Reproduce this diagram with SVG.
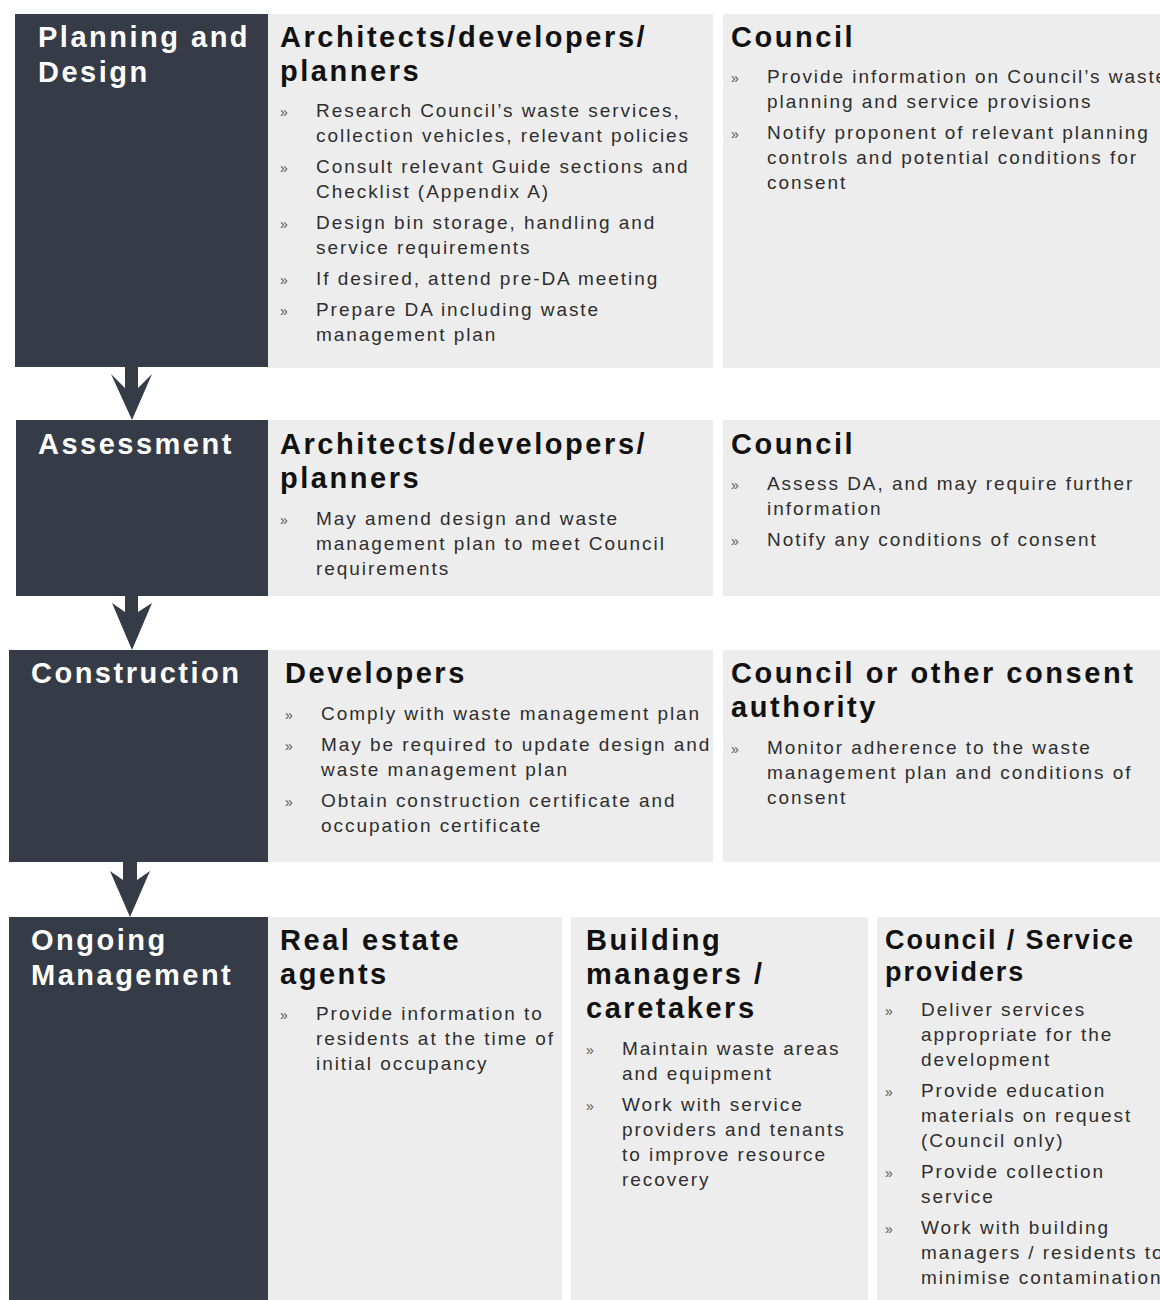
<svg xmlns="http://www.w3.org/2000/svg" width="1160" height="1300" viewBox="0 0 1160 1300">
<style>
.stage{fill:#353c47}
.pane{fill:#ededed}
.lbl{font-family:"Liberation Sans",Arial,sans-serif;font-weight:bold;font-size:29px;letter-spacing:2.5px;fill:#ffffff}
.hd{font-family:"Liberation Sans",Arial,sans-serif;font-weight:bold;font-size:29px;letter-spacing:2.55px;fill:#111111}
.hd2{font-family:"Liberation Sans",Arial,sans-serif;font-weight:bold;font-size:27px;letter-spacing:1.9px;fill:#111111}
.tx{font-family:"Liberation Sans",Arial,sans-serif;font-size:19px;letter-spacing:1.95px;fill:#2e2e2e}
.bu{font-family:"Liberation Sans",Arial,sans-serif;font-size:14px;fill:#555555}
.arr{fill:#353c47}
</style>
<rect width="1160" height="1300" fill="#ffffff"/>

<g id="connectors">
<polygon class="arr" points="125,367 138,367 138,388 152,374 132,420 111,374 125,388"/>
<polygon class="arr" points="125,596 138,596 138,612 152,603 132,650 112,603 125,612"/>
<polygon class="arr" points="123,862 137,862 137,880 150,871 130,917 110,871 123,880"/>
</g>

<g id="planning-design">
<rect class="stage" x="15" y="14" width="253" height="353"/>
<text class="lbl" x="38" y="47">Planning and<tspan x="38" y="82">Design</tspan></text>
</g>
<g id="planning-architects">
<rect class="pane" x="268" y="14" width="445" height="354"/>
<text class="hd" x="280" y="47">Architects/developers/<tspan x="280" y="81">planners</tspan></text>
<text class="bu" x="280" y="117">»</text>
<text class="tx" x="316" y="117">Research Council’s waste services,<tspan x="316" y="142">collection vehicles, relevant policies</tspan></text>
<text class="bu" x="280" y="173">»</text>
<text class="tx" x="316" y="173">Consult relevant Guide sections and<tspan x="316" y="198">Checklist (Appendix A)</tspan></text>
<text class="bu" x="280" y="229">»</text>
<text class="tx" x="316" y="229">Design bin storage, handling and<tspan x="316" y="254">service requirements</tspan></text>
<text class="bu" x="280" y="285">»</text>
<text class="tx" x="316" y="285">If desired, attend pre-DA meeting</text>
<text class="bu" x="280" y="316">»</text>
<text class="tx" x="316" y="316">Prepare DA including waste<tspan x="316" y="341">management plan</tspan></text>
</g>
<g id="planning-council">
<rect class="pane" x="723" y="14" width="437" height="354"/>
<text class="hd" x="731" y="47">Council</text>
<text class="bu" x="731" y="83">»</text>
<text class="tx" x="767" y="83">Provide information on Council’s waste<tspan x="767" y="108">planning and service provisions</tspan></text>
<text class="bu" x="731" y="139">»</text>
<text class="tx" x="767" y="139">Notify proponent of relevant planning<tspan x="767" y="164">controls and potential conditions for</tspan><tspan x="767" y="189">consent</tspan></text>
</g>

<g id="assessment">
<rect class="stage" x="16" y="420" width="252" height="176"/>
<text class="lbl" x="38" y="454">Assessment</text>
</g>
<g id="assessment-architects">
<rect class="pane" x="268" y="420" width="445" height="176"/>
<text class="hd" x="280" y="454">Architects/developers/<tspan x="280" y="488">planners</tspan></text>
<text class="bu" x="280" y="525">»</text>
<text class="tx" x="316" y="525">May amend design and waste<tspan x="316" y="550">management plan to meet Council</tspan><tspan x="316" y="575">requirements</tspan></text>
</g>
<g id="assessment-council">
<rect class="pane" x="723" y="420" width="437" height="176"/>
<text class="hd" x="731" y="454">Council</text>
<text class="bu" x="731" y="490">»</text>
<text class="tx" x="767" y="490">Assess DA, and may require further<tspan x="767" y="515">information</tspan></text>
<text class="bu" x="731" y="546">»</text>
<text class="tx" x="767" y="546">Notify any conditions of consent</text>
</g>

<g id="construction">
<rect class="stage" x="9" y="650" width="259" height="212"/>
<text class="lbl" x="31" y="683">Construction</text>
</g>
<g id="construction-developers">
<rect class="pane" x="268" y="650" width="445" height="212"/>
<text class="hd" x="285" y="683">Developers</text>
<text class="bu" x="285" y="720">»</text>
<text class="tx" x="321" y="720">Comply with waste management plan</text>
<text class="bu" x="285" y="751">»</text>
<text class="tx" x="321" y="751">May be required to update design and<tspan x="321" y="776">waste management plan</tspan></text>
<text class="bu" x="285" y="807">»</text>
<text class="tx" x="321" y="807">Obtain construction certificate and<tspan x="321" y="832">occupation certificate</tspan></text>
</g>
<g id="construction-council">
<rect class="pane" x="723" y="650" width="437" height="212"/>
<text class="hd" x="731" y="683">Council or other consent<tspan x="731" y="717">authority</tspan></text>
<text class="bu" x="731" y="754">»</text>
<text class="tx" x="767" y="754">Monitor adherence to the waste<tspan x="767" y="779">management plan and conditions of</tspan><tspan x="767" y="804">consent</tspan></text>
</g>

<g id="ongoing-management">
<rect class="stage" x="9" y="917" width="259" height="383"/>
<text class="lbl" x="31" y="950">Ongoing<tspan x="31" y="985">Management</tspan></text>
</g>
<g id="ongoing-agents">
<rect class="pane" x="268" y="917" width="294" height="383"/>
<text class="hd" x="280" y="950">Real estate<tspan x="280" y="984">agents</tspan></text>
<text class="bu" x="280" y="1020">»</text>
<text class="tx" x="316" y="1020">Provide information to<tspan x="316" y="1045">residents at the time of</tspan><tspan x="316" y="1070">initial occupancy</tspan></text>
</g>
<g id="ongoing-building">
<rect class="pane" x="571" y="917" width="297" height="383"/>
<text class="hd" x="586" y="950">Building<tspan x="586" y="984">managers /</tspan><tspan x="586" y="1018">caretakers</tspan></text>
<text class="bu" x="586" y="1055">»</text>
<text class="tx" x="622" y="1055">Maintain waste areas<tspan x="622" y="1080">and equipment</tspan></text>
<text class="bu" x="586" y="1111">»</text>
<text class="tx" x="622" y="1111">Work with service<tspan x="622" y="1136">providers and tenants</tspan><tspan x="622" y="1161">to improve resource</tspan><tspan x="622" y="1186">recovery</tspan></text>
</g>
<g id="ongoing-council">
<rect class="pane" x="877" y="917" width="283" height="383"/>
<text class="hd2" x="885" y="949">Council / Service<tspan x="885" y="981">providers</tspan></text>
<text class="bu" x="885" y="1016">»</text>
<text class="tx" x="921" y="1016">Deliver services<tspan x="921" y="1041">appropriate for the</tspan><tspan x="921" y="1066">development</tspan></text>
<text class="bu" x="885" y="1097">»</text>
<text class="tx" x="921" y="1097">Provide education<tspan x="921" y="1122">materials on request</tspan><tspan x="921" y="1147">(Council only)</tspan></text>
<text class="bu" x="885" y="1178">»</text>
<text class="tx" x="921" y="1178">Provide collection<tspan x="921" y="1203">service</tspan></text>
<text class="bu" x="885" y="1234">»</text>
<text class="tx" x="921" y="1234">Work with building<tspan x="921" y="1259">managers / residents to</tspan><tspan x="921" y="1284">minimise contamination</tspan></text>
</g>
</svg>
